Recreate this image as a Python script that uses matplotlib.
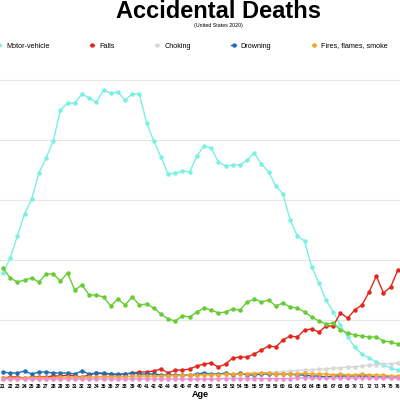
import matplotlib
matplotlib.use("Agg")
import matplotlib.pyplot as plt

ages = list(range(21, 77))
motor = [1070,1220,1440,1660,1810,2070,2220,2390,2700,2770,2770,2860,2820,2780,2900,2870,2880,2800,2860,2860,
         2570,2390,2230,2060,2070,2090,2080,2240,
         2340,2320,2180,2140,2150,2150,2200,2270,2160,2080,1940,1860,1600,1440,1390,
         1130,970,800,680,550,430,330,260,220,180,150,120,100]
poison = [1120,1020,980,1000,1020,980,1060,1060,990,1070,900,950,850,850,830,740,810,750,830,750,
          760,720,660,610,590,640,630,680,
          720,700,670,680,710,700,780,810,780,800,740,770,730,720,680,
          630,590,560,570,500,470,450,440,430,430,390,380,360]
falls = [20,30,30,20,30,30,30,40,40,50,40,30,50,70,60,60,50,60,70,80,
         80,90,110,70,100,100,110,140,
         160,170,130,160,220,230,230,260,300,340,330,400,440,430,500,
         510,480,540,540,670,620,700,750,880,1040,870,930,1100]
drowning = [80,70,70,90,60,80,80,70,70,70,60,90,60,70,70,60,60,60,70,60,
            60,60,50,50,50,50,50,60,70,60,60,70,50,70,50,50,60,60,60,60,
            60,50,50,40,40,30,40,40,40,40,40,40,30,30,30,30]
choking = [10,10,10,10,10,15,15,15,15,20,20,20,20,20,25,25,25,30,30,30,
           30,35,35,40,40,40,45,45,50,50,55,55,60,60,65,70,70,75,80,85,
           90,95,100,100,110,110,120,120,130,130,140,150,150,160,165,170]
fires = [20,20,20,20,25,25,25,25,30,30,30,30,30,30,35,35,35,35,40,40,
         40,40,45,45,45,50,50,50,55,55,55,60,60,60,65,65,70,70,60,60,
         60,60,70,60,60,60,50,60,50,50,60,50,50,50,40,40]
other = [10,10,10,10,10,10,10,10,10,10,10,10,10,10,10,10,10,10,10,10,
         10,10,10,10,10,10,10,10,10,10,10,15,15,15,15,15,15,15,15,15,
         15,20,20,20,20,20,20,20,20,20,20,20,20,20,20,20]

plt.rcParams['font.family'] = ['Liberation Sans', 'DejaVu Sans']
fig = plt.figure(figsize=(4, 4), dpi=100)
ax = fig.add_axes([0, 0.0475, 1, 0.8025])

series = [("Motor-vehicle", motor, "#7af0e2"),
          ("Falls", falls, "#e3261b"),
          ("Choking", choking, "#d8d8d8"),
          ("Drowning", drowning, "#1f6db5"),
          ("Fires, flames, smoke", fires, "#f3a628"),
          ("_other", other, "#f08cd0"),
          ("_poison", poison, "#66cc33")]
for name, vals, col in series:
    ax.plot(ages, vals, color=col, marker='o', markersize=2.2, linewidth=1.0, label=name)

ax.set_xlim(20.58, 76.3)
ax.set_ylim(-10, 3200)
ax.set_yticks([600, 1200, 1800, 2400, 3000])
ax.set_yticklabels([])
ax.tick_params(axis='y', length=0)
ax.grid(axis='y', color='#e6e6e6', linewidth=0.8)
ax.set_xticks(ages)
ax.set_xticklabels([str(a) for a in ages], fontsize=3.6, fontweight='bold')
ax.tick_params(axis='x', length=0, pad=2)
for s in ax.spines.values():
    s.set_visible(False)
ax.set_xlabel("Age", fontsize=6.5, fontweight='bold', labelpad=1)

fig.text(0.545, 0.97, "Accidental Deaths", ha='center', va='center', fontsize=17, fontweight='bold')
fig.text(0.545, 0.937, "(United States 2020)", ha='center', va='center', fontsize=3.8)
fig.legend(loc='center left', bbox_to_anchor=(-0.025, 0.885), ncol=5, frameon=False,
           fontsize=5.2, markerscale=1.0, handlelength=0.6, columnspacing=5.6, handletextpad=0.7)
fig.savefig("out.png", dpi=100)
